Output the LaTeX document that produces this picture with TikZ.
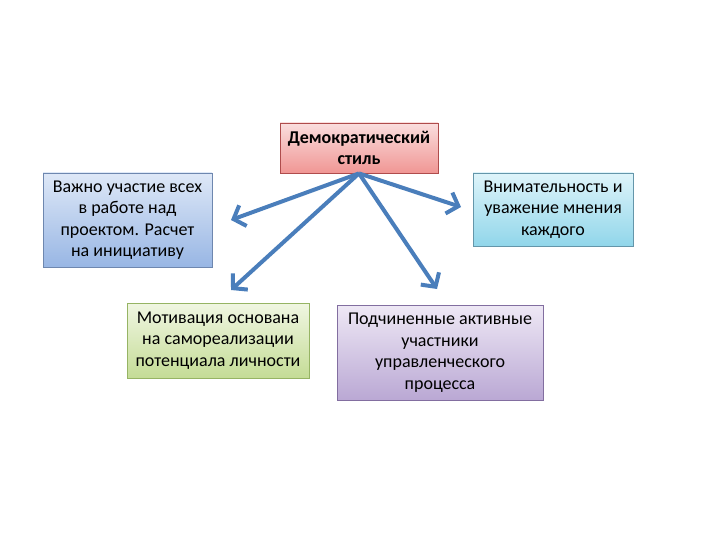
\documentclass[tikz,border=0pt]{standalone}
\usepackage{fontspec}
\setmainfont{Carlito}
\usetikzlibrary{arrows.meta}
\definecolor{arrowblue}{HTML}{4A7EBB}
\tikzset{
  box/.style={draw, line width=0.8pt, align=center, inner sep=2pt,
    font=\fontsize{18}{21.5}\selectfont},
  conn/.style={draw=arrowblue, line width=4pt,
    -{Straight Barb[length=10pt,width=22pt,line width=4pt]}, shorten <=0pt}
}
\begin{document}
\begin{tikzpicture}[x=1pt,y=-1pt]
\useasboundingbox (0,0) rectangle (720,540);
\node[box, draw=red!55!black!70, top color={rgb,255:red,250;green,222;blue,222}, bottom color={rgb,255:red,240;green,150;blue,148},
  minimum width=158pt, minimum height=50pt] (top) at (359,148) {\textbf{Демократический}\\\textbf{стиль}};
\node[box, draw={rgb,255:red,110;green,135;blue,175}, top color={rgb,255:red,222;green,232;blue,247}, bottom color={rgb,255:red,152;green,182;blue,228},
  minimum width=169pt, minimum height=94pt] (l) at (127.5,220) {Важно участие всех\\в работе над\\проектом. Расчет\\на инициативу};
\node[box, draw={rgb,255:red,100;green,150;blue,170}, top color={rgb,255:red,222;green,244;blue,250}, bottom color={rgb,255:red,145;green,214;blue,234},
  minimum width=160pt, minimum height=73pt] (r) at (553,209.5) {Внимательность и\\уважение мнения\\каждого};
\node[box, draw={rgb,255:red,150;green,180;blue,100}, top color={rgb,255:red,240;green,246;blue,226}, bottom color={rgb,255:red,196;green,220;blue,150},
  minimum width=182pt, minimum height=75pt] (bl) at (218,340.5) {Мотивация основана\\на самореализации\\потенциала личности};
\node[box, draw={rgb,255:red,130;green,110;blue,160}, top color={rgb,255:red,238;green,232;blue,245}, bottom color={rgb,255:red,186;green,168;blue,212},
  minimum width=206pt, minimum height=95pt] (br) at (440,352.5) {Подчиненные активные\\участники\\управленческого\\процесса};
\coordinate (o) at (top.south);
\coordinate (e1) at (231,220);
\coordinate (e2) at (231,290);
\coordinate (e3) at (437,289);
\coordinate (e4) at (461,207);
\draw[conn] (o) -- (e1);
\draw[conn] (o) -- (e2);
\draw[conn] (o) -- (e3);
\draw[conn] (o) -- (e4);
\end{tikzpicture}
\end{document}
